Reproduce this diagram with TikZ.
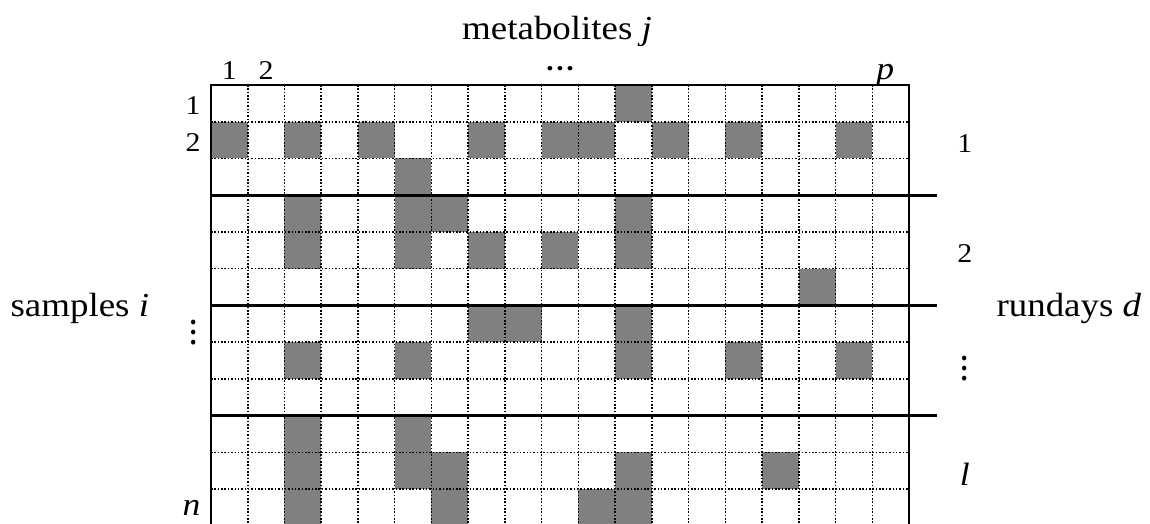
\documentclass[tikz,border=0pt]{standalone}
\usepackage{fontspec}
\setmainfont{Liberation Serif}[FakeStretch=1.1]

\begin{document}
\begin{tikzpicture}[scale=1,
    cell/.style={fill=black!50},
    gridline/.style={line width=1.2pt, dash pattern=on 1.2pt off 1.4pt},
    border/.style={line width=2.2pt},
    axislabel/.style={font=\fontsize{26}{30}\selectfont, anchor=base, inner sep=0pt},
    idxlabel/.style={font=\fontsize{21}{25}\selectfont, inner sep=0pt},
    letterlabel/.style={font=\fontsize{25}{29}\selectfont\itshape, inner sep=0pt}]
    \useasboundingbox (-5.743,-11.922) rectangle (25.558,2.314);
    \begin{scope}
        \clip (-5.743,-11.922) rectangle (25.558,2.314);
        \foreach \r/\cols in {1/{12}, 2/{1,3,5,8,10,11,13,15,18}, 3/{6}, 4/{3,6,7,12},
                5/{3,6,8,10,12}, 6/{17}, 7/{8,9,12}, 8/{3,6,12,15,18}, 10/{3,6},
                11/{3,6,7,12,16}, 12/{3,7,11,12}}
            \foreach \c in \cols
                \fill[cell] (\c-1,1-\r) rectangle (\c,-\r);
        \foreach \x in {1,...,18}
            \draw[gridline] (\x,0) -- (\x,-12.5);
        \foreach \y in {1,2,4,5,7,8,10,11}
            \draw[gridline] (0,-\y) -- (19,-\y);
        \draw[border] (0,-12.5) -- (0,0) -- (19,0) -- (19,-12.5);
        \foreach \y in {3,6,9}
            \draw[border] (0,-\y) -- (19.76,-\y);
    \end{scope}
    \node[axislabel] (metlabel) at (9.42, 1.25) {metabolites \textit{j}};
    \node[axislabel] (samplelabel) at (-3.57, -6.31) {samples \textit{i}};
    \node[axislabel] (rundaylabel) at (23.35, -6.31) {rundays \textit{d}};
    \node[idxlabel, anchor=base] (col1) at (0.5, 0.16) {1};
    \node[idxlabel, anchor=base] (col2) at (1.5, 0.16) {2};
    \node[idxlabel] (coldots) at (9.5, 0.435) {\textbf{…}};
    \node[letterlabel, anchor=base] (colp) at (18.35, 0.16) {p};
    \node[idxlabel] (row1) at (-0.49, -0.55) {1};
    \node[idxlabel] (row2) at (-0.49, -1.57) {2};
    \node[idxlabel, rotate=90] (rowdots) at (-0.46, -6.75) {\textbf{…}};
    \node[letterlabel] (rown) at (-0.53, -11.5) {n};
    \node[idxlabel] (day1) at (20.52, -1.59) {1};
    \node[idxlabel] (day2) at (20.52, -4.58) {2};
    \node[idxlabel, rotate=90] (daydots) at (20.52, -7.73) {\textbf{…}};
    \node[letterlabel] (dayl) at (20.52, -10.59) {l};
\end{tikzpicture}
\end{document}
